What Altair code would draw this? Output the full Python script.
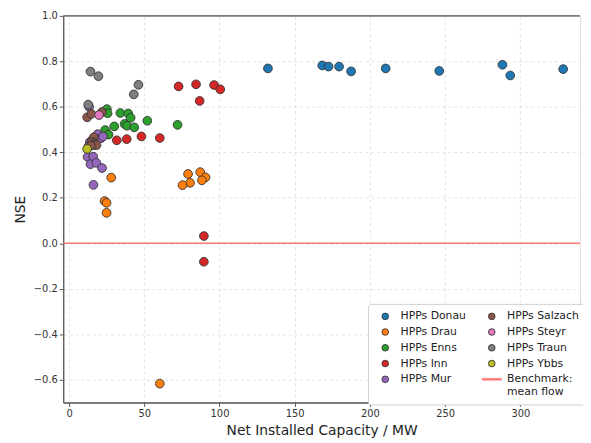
import altair as alt
import pandas as pd

# ---- data ----
donau_cap = [132.2, 168.3, 172.5, 179.5, 187.5, 210.5, 246.1, 288.1, 293.3, 328.5]
donau_nse = [0.769, 0.782, 0.777, 0.777, 0.756, 0.769, 0.758, 0.785, 0.738, 0.766]

drau_cap = [28.0, 23.6, 24.9, 24.9, 79.1, 87.2, 90.7, 88.3, 80.4, 75.4, 60.3]
drau_nse = [0.289, 0.186, 0.178, 0.134, 0.305, 0.313, 0.290, 0.277, 0.266, 0.256, -0.617]

enns_cap = [25.1, 25.6, 24.0, 26.2, 30.0, 34.1, 39.3, 40.9, 36.9, 38.5, 43.3, 52.0, 72.1]
enns_nse = [0.590, 0.572, 0.498, 0.478, 0.514, 0.573, 0.571, 0.552, 0.525, 0.517, 0.510, 0.539, 0.521]

inn_cap = [31.7, 38.3, 48.1, 60.3, 72.8, 84.4, 86.8, 96.4, 100.5, 89.6, 89.6]
inn_nse = [0.453, 0.458, 0.470, 0.463, 0.690, 0.699, 0.626, 0.696, 0.677, 0.032, -0.081]

mur_cap = [13.3, 19.0, 21.2, 22.5, 13.8, 12.8, 15.5, 12.3, 16.0, 14.2, 18.1, 21.9, 16.2]
mur_nse = [0.600, 0.480, 0.462, 0.470, 0.445, 0.425, 0.455, 0.380, 0.381, 0.348, 0.354, 0.331, 0.257]

salzach_cap = [12.0, 14.8, 21.8, 16.4, 15.0, 17.0, 16.8, 18.2, 14.5]
salzach_nse = [0.554, 0.569, 0.577, 0.466, 0.445, 0.440, 0.432, 0.432, 0.430]

steyr_cap = [19.9]
steyr_nse = [0.564]

traun_cap = [14.2, 19.5, 12.7, 43.0, 46.1]
traun_nse = [0.755, 0.735, 0.610, 0.655, 0.697]

ybbs_cap = [12.0]
ybbs_nse = [0.415]

groups = ["HPPs Donau", "HPPs Drau", "HPPs Enns", "HPPs Inn", "HPPs Mur",
          "HPPs Salzach", "HPPs Steyr", "HPPs Traun", "HPPs Ybbs"]
group_colors = ["#1f77b4", "#ff7f0e", "#2ca02c", "#d62728", "#9467bd",
                "#8c564b", "#e377c2", "#7f7f7f", "#bcbd22"]
caps = [donau_cap, drau_cap, enns_cap, inn_cap, mur_cap, salzach_cap, steyr_cap, traun_cap, ybbs_cap]
nses = [donau_nse, drau_nse, enns_nse, inn_nse, mur_nse, salzach_nse, steyr_nse, traun_nse, ybbs_nse]

BENCH = "Benchmark: mean flow"
BENCH_COLOR = "#ff7878"

rows = []
for g, cs, ns in zip(groups, caps, nses):
    for c, n in zip(cs, ns):
        rows.append({"group": g, "cap": c, "nse": n})
df = pd.DataFrame(rows)

# legend entries (filled column-wise, two columns)
legend_order = groups + [BENCH]
color_range = group_colors + [BENCH_COLOR]
shape_range = ["circle"] * 9 + ["M-2.9,-0.22H2.9V0.22H-2.9Z"]
stroke_range = ["#333333"] * 9 + [BENCH_COLOR]
sw_range = [0.9] * 9 + [0.5]

FONT = "DejaVu Sans"

legend = alt.Legend(
    title=None, orient="none", legendX=309, legendY=292, columns=2,
    fillColor="white", strokeColor="#d0d0d0", cornerRadius=3, padding=7,
    labelFont=FONT, labelFontSize=11, labelColor="#222", symbolSize=45,
    rowPadding=4, columnPadding=13, labelOffset=10, symbolOffset=5, symbolOpacity=1,
    labelExpr=f"datum.label == '{BENCH}' ? ['Benchmark:', ' mean flow'] : datum.label",
)

x_axis = alt.Axis(values=[0, 50, 100, 150, 200, 250, 300], title="Net Installed Capacity / MW",
                  grid=True, gridDash=[3, 3], gridColor="#dddddd", gridWidth=0.8,
                  tickColor="#555", domainColor="#555", domainWidth=1.3, tickSize=4,
                  labelFont=FONT, titleFont=FONT, labelFontSize=10, titleFontSize=14,
                  labelColor="#333", titleColor="#222", titleFontWeight="normal",
                  labelPadding=2, titlePadding=5, labelFlush=False)
y_axis = alt.Axis(values=[-0.6, -0.4, -0.2, 0.0, 0.2, 0.4, 0.6, 0.8, 1.0], title="NSE",
                  labelExpr="replace(format(datum.value, '.1f'), '-', '−')",
                  grid=True, gridDash=[3, 3], gridColor="#dddddd", gridWidth=0.8,
                  tickColor="#555", domainColor="#555", domainWidth=1.3, tickSize=4,
                  labelFont=FONT, titleFont=FONT, labelFontSize=10, titleFontSize=14,
                  labelColor="#333", titleColor="#222", titleFontWeight="normal",
                  labelPadding=2, titlePadding=6, labelFlush=False)

xs = alt.Scale(domain=[-3.9, 339.7], nice=False, zero=False)
ys = alt.Scale(domain=[-0.7, 1.0], nice=False, zero=False)

zero_line = alt.Chart(pd.DataFrame({"y": [0.0]})).mark_rule(
    color=BENCH_COLOR, strokeWidth=1.6).encode(y=alt.Y("y:Q", scale=ys, axis=y_axis))

top_spine = alt.Chart(pd.DataFrame({"y": [1.0]})).mark_rule(
    color="#555", strokeWidth=1.3).encode(y=alt.Y("y:Q", scale=ys))

points = alt.Chart(df).mark_point(
    filled=True, size=78, opacity=1
).encode(
    x=alt.X("cap:Q", scale=xs, axis=x_axis),
    y=alt.Y("nse:Q", scale=ys, axis=y_axis),
    color=alt.Color("group:N", scale=alt.Scale(domain=legend_order, range=color_range), legend=legend),
    shape=alt.Shape("group:N", scale=alt.Scale(domain=legend_order, range=shape_range), legend=legend),
    stroke=alt.Stroke("group:N", scale=alt.Scale(domain=legend_order, range=stroke_range), legend=legend),
    strokeWidth=alt.StrokeWidth("group:N", scale=alt.Scale(domain=legend_order, range=sw_range), legend=legend),
)

chart = alt.layer(zero_line, top_spine, points).properties(
    width=524, height=392, autosize="none",
    padding={"left": 56, "top": 5, "right": 3, "bottom": 35},
).configure_view(stroke=None).configure(background="white")

chart.save("out.html", embed_options={"renderer": "svg", "actions": False})
